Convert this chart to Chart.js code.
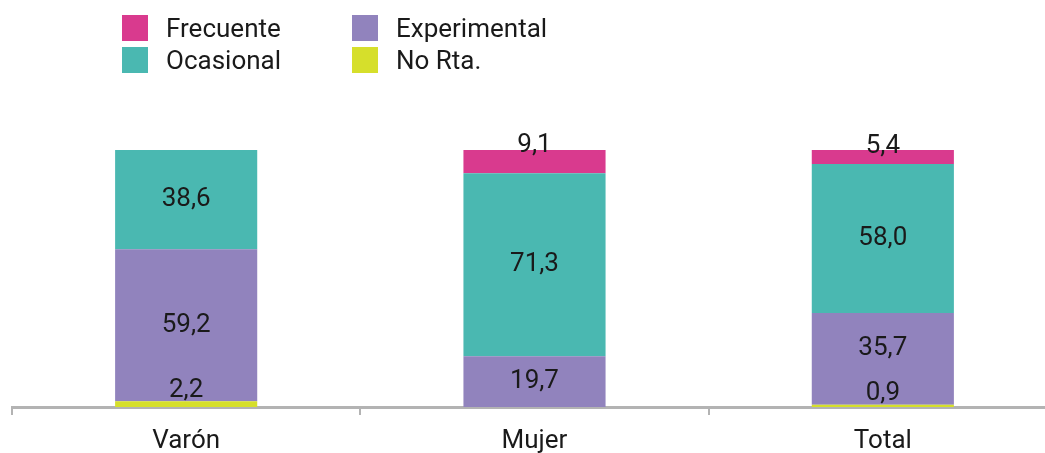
<!DOCTYPE html>
<html lang="es">
<head>
<meta charset="utf-8">
<title>Frecuencia de consumo por sexo</title>
<script src="https://cdn.jsdelivr.net/npm/chart.js@4.4.1/dist/chart.umd.min.js"></script>
<style>
  html, body { margin: 0; padding: 0; background: #ffffff; overflow: hidden; }
  #wrap { position: relative; width: 1060px; height: 453px; }
  #chart { position: absolute; left: 0; top: 0; }
  #legend {
    position: absolute; left: 122px; top: 15px;
    display: grid; grid-template-columns: 230px 230px; row-gap: 6px;
    font-family: Roboto, "Noto Sans", sans-serif; font-size: 26px; color: #1a1a1a;
  }
  .item { display: flex; align-items: center; height: 26px; }
  .swatch { width: 26px; height: 26px; margin-right: 18px; flex: none; }
</style>
</head>
<body>
<div id="wrap">
  <canvas id="chart" width="1060" height="453"></canvas>
  <div id="legend"></div>
</div>
<script>
// Categories and the share (%) of each consumption frequency
const categories = ['Varón', 'Mujer', 'Total'];
const noRta        = [2.2, 0, 0.9];
const experimental = [59.2, 19.7, 35.7];
const ocasional    = [38.6, 71.3, 58.0];
const frecuente    = [0, 9.1, 5.4];

const colors = {
  'Frecuente': '#d93a8e',
  'Ocasional': '#4ab8b1',
  'Experimental': '#9183bd',
  'No Rta.': '#d6df2b'
};

// Stack order from the bottom up
const series = [
  { label: 'No Rta.', data: noRta },
  { label: 'Experimental', data: experimental },
  { label: 'Ocasional', data: ocasional },
  { label: 'Frecuente', data: frecuente }
];

// Legend: two columns, filled row by row
const legendOrder = ['Frecuente', 'Experimental', 'Ocasional', 'No Rta.'];
const legendEl = document.getElementById('legend');
legendOrder.forEach(name => {
  const item = document.createElement('div');
  item.className = 'item';
  const sw = document.createElement('span');
  sw.className = 'swatch';
  sw.style.background = colors[name];
  const tx = document.createElement('span');
  tx.textContent = name;
  item.appendChild(sw);
  item.appendChild(tx);
  legendEl.appendChild(item);
});

const fmt = v => v.toFixed(1).replace('.', ',');

// Value labels: centred in each segment; thin segments get their label
// moved to the top edge (top of stack) or just above (bottom of stack).
const valueLabels = {
  id: 'valueLabels',
  afterDatasetsDraw(chart) {
    const ctx = chart.ctx;
    ctx.save();
    ctx.font = '26px Roboto, "Noto Sans", sans-serif';
    ctx.fillStyle = '#1a1a1a';
    ctx.textAlign = 'center';
    ctx.textBaseline = 'middle';
    const n = chart.data.datasets.length;
    categories.forEach((_, i) => {
      let lowLabelY = null;
      for (let d = 0; d < n; d++) {
        const v = chart.data.datasets[d].data[i];
        if (!v) continue;
        const el = chart.getDatasetMeta(d).data[i];
        const p = el.getProps(['x', 'y', 'base'], true);
        const top = Math.min(p.y, p.base), bottom = Math.max(p.y, p.base);
        let y = (top + bottom) / 2;
        if (bottom - top < 30) {
          if (d === 0) { y = top - 11; lowLabelY = y; }
          else { y = top - 4; }
        } else if (lowLabelY !== null) {
          y = Math.min(y, lowLabelY - 45);
          lowLabelY = null;
        }
        ctx.fillText(fmt(v), p.x, y);
      }
    });
    ctx.restore();
  }
};

new Chart(document.getElementById('chart'), {
  type: 'bar',
  data: {
    labels: categories,
    datasets: series.map(s => ({
      label: s.label,
      data: s.data,
      backgroundColor: colors[s.label],
      borderWidth: 0,
      categoryPercentage: 1,
      barPercentage: 0.408
    }))
  },
  options: {
    responsive: false,
    animation: false,
    layout: { padding: { top: 150, left: 12, right: 3, bottom: 0 } },
    plugins: { legend: { display: false }, tooltip: { enabled: false } },
    scales: {
      x: {
        stacked: true,
        offset: true,
        grid: {
          display: true, offset: true, drawOnChartArea: false, drawTicks: true,
          tickLength: 8, color: '#b3b3b3', lineWidth: 2
        },
        border: { display: true, color: '#b3b3b3', width: 3 },
        ticks: {
          color: '#1a1a1a', padding: 11,
          font: { family: 'Roboto, "Noto Sans", sans-serif', size: 26 }
        },
        afterFit(scale) { scale.height = 46; }
      },
      y: {
        stacked: true, display: false, min: 0, max: 100
      }
    }
  },
  plugins: [valueLabels]
});
</script>
</body>
</html>
